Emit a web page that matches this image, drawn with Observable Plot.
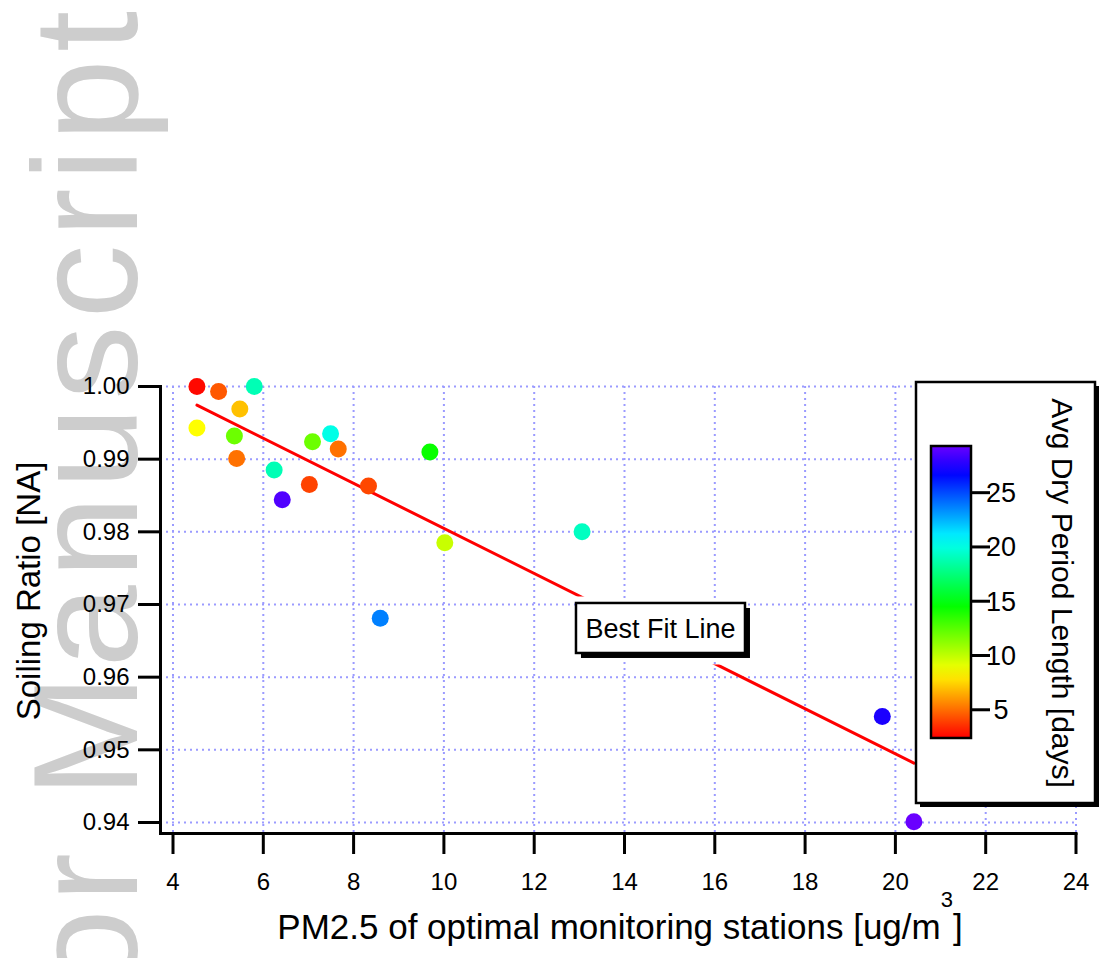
<!DOCTYPE html>
<html><head><meta charset="utf-8">
<script src="https://cdn.jsdelivr.net/npm/d3@7"></script>
<script src="https://cdn.jsdelivr.net/npm/@observablehq/plot@0.6"></script>
<style>body{margin:0;background:#fff} svg{display:block}</style>
</head><body><div id="chart"></div>
<script>
// ---- data ----
const pm25 = [4.53, 5.01, 5.80, 5.48, 4.53, 5.36, 5.41, 6.24, 6.42, 7.09, 7.49, 7.66, 7.02, 8.33, 9.69, 10.02, 8.59, 13.06, 19.71, 20.41];
const soilingRatio = [1.000, 0.9993, 1.000, 0.9969, 0.9943, 0.9932, 0.9901, 0.9885, 0.9844, 0.9924, 0.9935, 0.9914, 0.9865, 0.9863, 0.9910, 0.9785, 0.9681, 0.9800, 0.9546, 0.9401];
const dryPeriod = [2.6, 4.5, 18.9, 7.0, 8.5, 12.0, 5.1, 18.9, 28.7, 12.0, 20.1, 5.1, 4.0, 4.1, 14.4, 9.8, 23.7, 19.2, 27.4, 29.3];
const xTicks = [4, 6, 8, 10, 12, 14, 16, 18, 20, 22, 24];
const yTicks = [0.94, 0.95, 0.96, 0.97, 0.98, 0.99, 1.00];
const legendTicks = [5, 10, 15, 20, 25];
const colorDomain = [2.4, 29.3];
const xLabelMain = "PM2.5 of optimal monitoring stations [ug/m";
const xLabelSup = "3";
const xLabelEnd = "]";
const yLabel = "Soiling Ratio [NA]";
const legendTitle = "Avg Dry Period Length [days]";
const fitLabel = "Best Fit Line";
const fitLabelPos = {x: 14.808, y: 0.9667};
const watermark = "Author Manuscript";

const data = pm25.map((x, i) => ({x, y: soilingRatio[i], c: dryPeriod[i]}));
const font = '"Liberation Sans", Arial, sans-serif';
const grid = {stroke: "#9b9bff", strokeOpacity: 1, strokeWidth: 2, strokeDasharray: "2,4"};
const rainbow = t => d3.hsl(t * 265, 1, 0.5).formatHex();

const plot = Plot.plot({
  width: 1101, height: 958,
  marginLeft: 160, marginRight: 25.5, marginTop: 386, marginBottom: 125,
  style: {fontFamily: font, background: "white", color: "black"},
  x: {domain: [3.7231, 24]},
  y: {domain: [0.938486, 1.0]},
  color: {type: "linear", domain: colorDomain, interpolate: rainbow},
  marks: [
    Plot.gridX(xTicks, grid),
    Plot.gridY(yTicks, grid),
    Plot.linearRegressionY(data, {x: "x", y: "y", stroke: "#ff0000", strokeWidth: 3, ci: 0}),
    Plot.dot(data, {x: "x", y: "y", fill: "c", r: 8.5}),
    Plot.frame({anchor: "left", stroke: "black", strokeWidth: 3}),
    Plot.frame({anchor: "bottom", stroke: "black", strokeWidth: 3}),
    Plot.axisX(xTicks, {tickSize: 21, tickPadding: 18, strokeWidth: 3, fontSize: 24, label: null}),
    Plot.axisY(yTicks, {tickSize: 22, tickPadding: 9, strokeWidth: 3, fontSize: 24, label: null, tickFormat: d3.format(".2f")})
  ]
});
document.getElementById("chart").appendChild(plot);

const svg = d3.select(plot);
const xs = plot.scale("x"), ys = plot.scale("y"), cs = plot.scale("color");

// make sure tick labels get their size
svg.selectAll('g[aria-label$="tick label"] text').style("font-size", "24px");

// watermark behind everything
svg.insert("text", ":first-child")
  .attr("transform", "translate(137,4) rotate(-90)")
  .attr("text-anchor", "end")
  .style("font-family", font).style("font-size", "148px").attr("letter-spacing", 7)
  .attr("fill", "#cdcdcd")
  .text(watermark);

// axis labels
svg.append("text")
  .attr("transform", "translate(40,591) rotate(-90)")
  .attr("text-anchor", "middle").style("font-family", font).style("font-size", "33px").attr("fill", "black")
  .text(yLabel);
const xl = svg.append("text")
  .attr("x", 620).attr("y", 939)
  .attr("text-anchor", "middle").style("font-family", font).style("font-size", "35px").attr("fill", "black");
xl.append("tspan").text(xLabelMain);
xl.append("tspan").style("font-size", "22px").attr("dy", -32).text(xLabelSup);
xl.append("tspan").attr("dy", 32).text(xLabelEnd);

// Best fit label box
const bx = xs.apply(fitLabelPos.x), by = ys.apply(fitLabelPos.y);
const bw = 169, bh = 50, pad = 7;
const defs = svg.append("defs");
const mask = defs.append("mask").attr("id", "fitmask").attr("maskUnits", "userSpaceOnUse")
  .attr("x", 0).attr("y", 0).attr("width", 1101).attr("height", 958);
mask.append("rect").attr("x", 0).attr("y", 0).attr("width", 1101).attr("height", 958).attr("fill", "white");
mask.append("rect").attr("x", bx - bw / 2 - pad).attr("y", by - bh / 2 - pad)
  .attr("width", bw + 2 * pad + 4).attr("height", bh + 2 * pad + 4).attr("fill", "black");
svg.selectAll('g[aria-label="linear-regression"]').attr("mask", "url(#fitmask)");
const fg = svg.append("g");
fg.append("rect").attr("x", bx - bw / 2 + 5).attr("y", by - bh / 2 + 5).attr("width", bw).attr("height", bh).attr("fill", "black");
fg.append("rect").attr("x", bx - bw / 2).attr("y", by - bh / 2).attr("width", bw).attr("height", bh)
  .attr("fill", "white").attr("stroke", "black").attr("stroke-width", 2.5);
fg.append("text").attr("x", bx).attr("y", by + 10).attr("text-anchor", "middle")
  .style("font-family", font).style("font-size", "27px").attr("fill", "black").text(fitLabel);

// colour bar legend
const lg = svg.append("g");
lg.append("rect").attr("x", 920).attr("y", 386).attr("width", 179).attr("height", 421).attr("fill", "black");
lg.append("rect").attr("x", 916).attr("y", 382).attr("width", 179).attr("height", 421)
  .attr("fill", "white").attr("stroke", "black").attr("stroke-width", 2.5);
const grad = defs.append("linearGradient").attr("id", "cbar").attr("x1", 0).attr("y1", 1).attr("x2", 0).attr("y2", 0);
d3.range(0, 1.0001, 0.05).forEach(t => {
  const v = colorDomain[0] + t * (colorDomain[1] - colorDomain[0]);
  grad.append("stop").attr("offset", t).attr("stop-color", cs.apply(v));
});
const barTop = 446, barBottom = 738, barLeft = 931, barW = 40;
const ly = d3.scaleLinear().domain(colorDomain).range([barBottom, barTop]);
lg.append("rect").attr("x", barLeft).attr("y", barTop).attr("width", barW).attr("height", barBottom - barTop)
  .attr("fill", "url(#cbar)").attr("stroke", "black").attr("stroke-width", 2.5);
legendTicks.forEach(v => {
  lg.append("line").attr("x1", barLeft + barW).attr("x2", barLeft + barW + 19)
    .attr("y1", ly(v)).attr("y2", ly(v)).attr("stroke", "black").attr("stroke-width", 3);
  lg.append("text").attr("x", 1001).attr("y", ly(v)).attr("dy", "0.35em")
    .style("font-family", font).style("font-size", "27px").attr("fill", "black").text(v);
});
lg.append("text").attr("transform", "translate(1052,593) rotate(90)")
  .attr("text-anchor", "middle").style("font-family", font).style("font-size", "30px").attr("fill", "black")
  .text(legendTitle);
</script>
</body></html>
